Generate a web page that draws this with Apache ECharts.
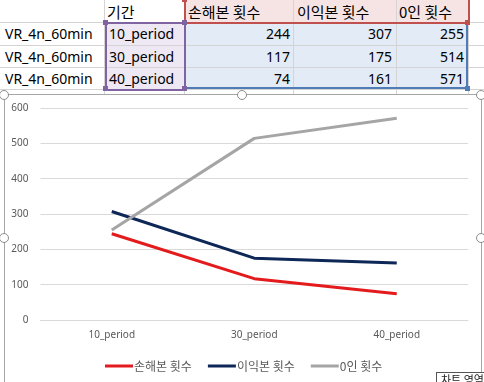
<!DOCTYPE html>
<html>
<head>
<meta charset="utf-8">
<script src="https://cdn.jsdelivr.net/npm/echarts@6/dist/echarts.min.js"></script>
<style>
html,body{margin:0;padding:0;background:#fff;}
body{width:484px;height:382px;overflow:hidden;position:relative;font-family:'Noto Sans','Noto Sans CJK KR',sans-serif;}
.abs{position:absolute;}
.cell{position:absolute;font-size:14px;font-weight:400;color:#000;line-height:22px;white-space:nowrap;}
.handle{position:absolute;width:8px;height:8px;border-radius:50%;background:#fff;border:1.5px solid #8c8c8c;z-index:10;}
.sq{position:absolute;width:5px;height:5px;z-index:6;}
</style>
</head>
<body>
<div id="sheet"></div>
<div class="abs" style="left:4px;top:94px;width:476px;height:300px;border:1px solid #a6a6a6;background:#fff;z-index:4;"></div>
<div id="chart" class="abs" style="left:0;top:0;width:484px;height:382px;z-index:5;"></div>
<div class="abs" style="left:436px;top:372px;width:60px;height:20px;border:1px solid #555;background:#fff;z-index:12;font-family:'Noto Sans CJK KR';font-size:11px;line-height:13px;padding-left:4px;color:#222;">차트 영역</div>
<script>
// ---- data ----
var rowLabel = 'VR_4n_60min';
var periodHeader = '기간';
var categories = ['10_period', '30_period', '40_period'];
var seriesNames = ['손해본 횟수', '이익본 횟수', '0인 횟수'];
var lossCounts = [244, 117, 74];
var gainCounts = [307, 175, 161];
var zeroCounts = [255, 514, 571];
var yMin = 0, yMax = 600, yStep = 100;

// ---- spreadsheet (HTML) ----
var sheet = document.getElementById('sheet');
function div(style, html, cls) {
  var d = document.createElement('div');
  d.className = cls || 'abs';
  d.setAttribute('style', style);
  if (html !== undefined) d.textContent = html;
  sheet.appendChild(d);
  return d;
}
var colX = [0, 104, 184, 293, 396, 468, 484];
var rowY = [-1, 22, 45, 67, 89, 111];
// fills
div('left:104px;top:22px;width:80px;height:67px;background:#ede8f3;');
div('left:184px;top:-1px;width:284px;height:23px;background:#f6e4e4;');
div('left:184px;top:22px;width:284px;height:67px;background:#e3ebf6;');
// gridlines
for (var i = 1; i < colX.length - 1; i++) {
  div('left:' + colX[i] + 'px;top:0;width:1px;height:95px;background:#d4d4d4;');
}
for (var j = 1; j < rowY.length - 1; j++) {
  div('left:0;top:' + rowY[j] + 'px;width:484px;height:1px;background:#d4d4d4;');
}
// selection borders
div('left:184px;top:-2px;width:282px;height:22px;border:2px solid #c0504d;z-index:2;');
div('left:184px;top:22px;width:282px;height:65px;border:2px solid #4f7bb6;border-top:none;border-left:none;z-index:2;');
div('left:105px;top:22px;width:77px;height:65px;border:2px solid #8064a2;z-index:3;');
// corner squares
div('left:103px;top:20px;background:#8064a2;', undefined, 'sq');
div('left:182px;top:20px;background:#8064a2;', undefined, 'sq');
div('left:103px;top:86px;background:#8064a2;', undefined, 'sq');
div('left:182px;top:86px;background:#8064a2;', undefined, 'sq');
div('left:465px;top:20px;background:#c0504d;', undefined, 'sq');
div('left:465px;top:86px;background:#4f7bb6;', undefined, 'sq');
div('left:182px;top:-3px;background:#c0504d;', undefined, 'sq');
// header text
div('left:107px;top:1px;font-family:"Noto Sans CJK KR";font-size:15px;', periodHeader, 'cell');
var headX = [188, 297, 399];
for (var k = 0; k < seriesNames.length; k++) {
  div('left:' + headX[k] + 'px;top:1px;font-family:"Noto Sans CJK KR";font-size:15px;', seriesNames[k], 'cell');
}
// body rows
var dataCols = [lossCounts, gainCounts, zeroCounts];
var rightEdges = [290, 392, 464];
for (var r = 0; r < categories.length; r++) {
  var rowTop = rowY[r + 1] + 1;
  div('left:5px;top:' + rowTop + 'px;', rowLabel, 'cell');
  div('left:109px;top:' + rowTop + 'px;', categories[r], 'cell');
  for (var c = 0; c < dataCols.length; c++) {
    div('right:' + (484 - rightEdges[c]) + 'px;top:' + rowTop + 'px;text-align:right;', String(dataCols[c][r]), 'cell');
  }
}
// handles on chart frame
[[4,95],[242,95],[481,95],[4,238],[481,238]].forEach(function (p) {
  var h = document.createElement('div');
  h.className = 'handle';
  h.style.left = (p[0] - 5.5) + 'px';
  h.style.top = (p[1] - 5.5) + 'px';
  document.body.appendChild(h);
});

// ---- chart ----
var chart = echarts.init(document.getElementById('chart'), null, {renderer: 'canvas'});
var colors = ['#e31b1c', '#0d2757', '#a5a5a5'];
chart.setOption({
  backgroundColor: 'transparent',
  animation: false,
  color: colors,
  grid: {left: 40.5, right: 16, top: 108, bottom: 62, containLabel: false},
  legend: {
    left: 100, top: 355,
    itemWidth: 28, itemHeight: 3, itemGap: 16,
    icon: 'rect',
    textStyle: {fontFamily: 'Noto Sans CJK KR', fontSize: 12, color: '#595959', padding: [0, 0, 0, -4]},
    data: seriesNames
  },
  xAxis: {
    type: 'category',
    data: categories,
    boundaryGap: true,
    axisLine: {show: true, lineStyle: {color: '#d9d9d9', width: 1}},
    axisTick: {show: false},
    axisLabel: {fontFamily: 'Noto Sans', fontSize: 10, color: '#595959', margin: 10}
  },
  yAxis: {
    type: 'value',
    min: yMin, max: yMax, interval: yStep,
    axisLine: {show: false},
    axisTick: {show: false},
    splitLine: {lineStyle: {color: '#d9d9d9', width: 1}},
    axisLabel: {fontFamily: 'Noto Sans', fontSize: 10, color: '#595959', margin: 12}
  },
  series: [
    {name: seriesNames[0], type: 'line', data: lossCounts, symbol: 'none', lineStyle: {width: 3}},
    {name: seriesNames[1], type: 'line', data: gainCounts, symbol: 'none', lineStyle: {width: 3}},
    {name: seriesNames[2], type: 'line', data: zeroCounts, symbol: 'none', lineStyle: {width: 3}}
  ]
});
</script>
</body>
</html>
